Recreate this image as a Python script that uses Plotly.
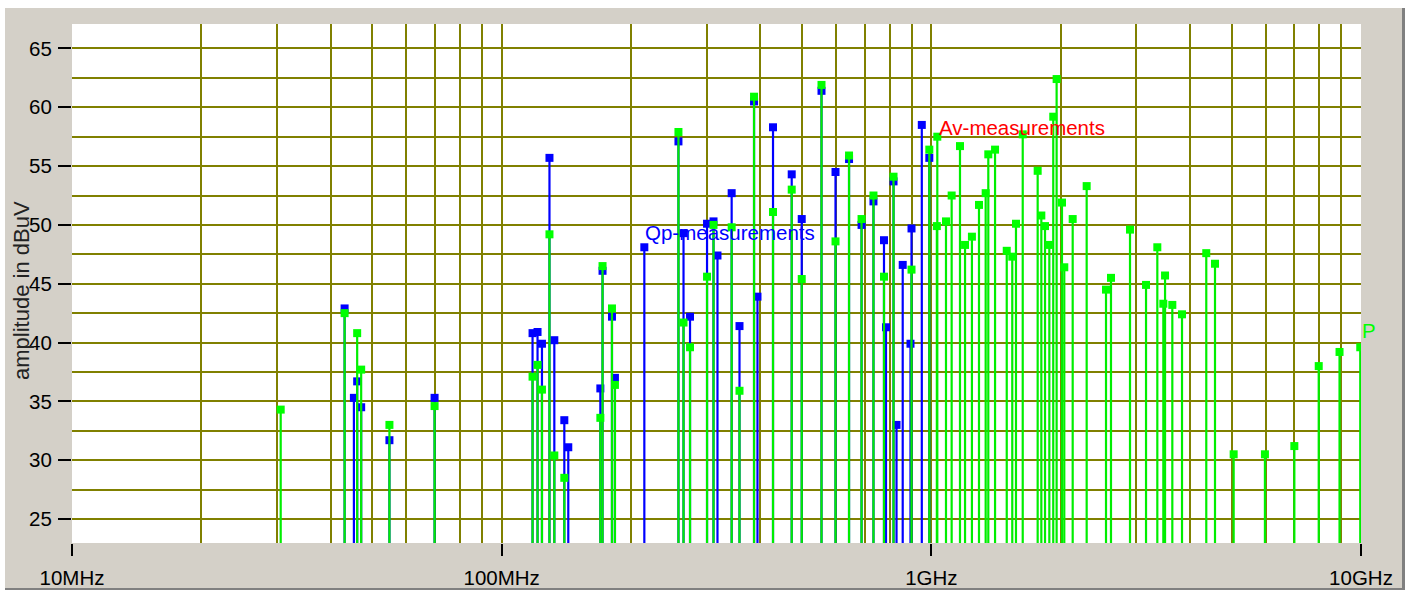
import math
import plotly.graph_objects as go

# ---------------- data ----------------
qp_freq_mhz = [43.1, 45.3, 46.1, 47.1, 54.8, 69.8, 118.0, 121.2, 124.1, 129.2,
               132.6, 139.9, 142.9, 169.7, 171.7, 180.6, 183.5, 214.8, 257.9, 265.0,
               274.4, 300.6, 311.2, 317.9, 343.0, 357.7, 386.7, 393.9, 428.1, 473.2,
               499.3, 555.1, 598.4, 643.4, 688.0, 733.4, 775.9, 784.3, 816.6, 829.8,
               857.8, 894.3, 899.2, 950.2, 989.2]
qp_dbuv = [42.9, 35.3, 36.7, 34.5, 31.7, 35.3, 40.8, 40.9, 39.9, 55.7,
           40.2, 33.4, 31.1, 36.1, 46.1, 42.2, 37.0, 48.1, 57.1, 49.3,
           42.2, 50.1, 50.3, 47.4, 52.7, 41.4, 60.5, 43.9, 58.3, 54.3,
           50.5, 61.4, 54.5, 55.6, 50.0, 52.0, 48.7, 41.3, 53.7, 33.0,
           46.6, 39.9, 49.7, 58.5, 55.7]

av_freq_mhz = [30.6, 43.1, 46.1, 47.1, 54.8, 69.8, 118.0, 121.2, 124.1, 129.2,
               132.6, 139.9, 169.7, 171.7, 180.6, 183.5, 257.9, 265.0, 274.4, 300.6,
               311.2, 343.0, 357.7, 386.7, 428.1, 473.2, 499.3, 555.1, 598.4, 643.4,
               688.0, 733.4, 775.9, 816.6, 899.2, 989.2, 1030.0, 1032.5, 1081.7, 1115.0,
               1166.0, 1198.0, 1243.0, 1291.0, 1338.0, 1357.0, 1407.0, 1498.0, 1543.0, 1574.0,
               1632.0, 1768.0, 1803.0, 1839.0, 1882.0, 1922.0, 1957.0, 2014.0, 2039.0, 2133.0,
               2299.0, 2550.0, 2619.0, 2900.0, 3160.0, 3357.0, 3467.0, 3499.0, 3638.0, 3832.0,
               4364.0, 4573.0, 5054.0, 5976.0, 6996.0, 7973.0, 8913.0, 9960.0]
av_dbuv = [34.3, 42.5, 40.8, 37.7, 33.0, 34.6, 37.1, 38.1, 36.0, 49.2,
           30.4, 28.5, 33.6, 46.5, 42.9, 36.4, 57.9, 41.7, 39.6, 45.6,
           50.0, 49.8, 35.9, 60.9, 51.1, 53.0, 45.4, 61.9, 48.6, 55.9,
           50.5, 52.5, 45.6, 54.1, 46.2, 56.4, 49.9, 57.5, 50.3, 52.5,
           56.7, 48.3, 49.0, 51.7, 52.7, 56.0, 56.4, 47.8, 47.3, 50.1,
           57.7, 54.6, 50.8, 49.9, 48.3, 59.2, 62.4, 51.9, 46.4, 50.5,
           53.3, 44.5, 45.5, 49.6, 44.9, 48.1, 43.3, 45.7, 43.2, 42.4,
           47.6, 46.7, 30.5, 30.5, 31.2, 38.0, 39.2, 39.6]

x_tick_mhz = [10, 100, 1000, 10000]
x_tick_labels = ["10MHz", "100MHz", "1GHz", "10GHz"]
y_ticks = [25, 30, 35, 40, 45, 50, 55, 60, 65]
y_title = "amplitude in dBuV"
qp_label = "Qp-measurements"
av_label = "Av-measurements"
p_label = "P"
qp_label_idx = 17     # Qp point the label is attached to
av_label_idx = 37     # Av point the label is attached to

# ---------------- styling ----------------
FONT = "Liberation Sans, Arial, sans-serif"
W, H = 1408, 591
L, R, T, B = 72, 47, 24, 48
PW, PH = W - L - R, H - T - B
GRID = "#808000"
BLUE = "#0000FF"
GREEN_LINE = "#00EE00"
GREEN_MK = "#00FF00"
STEM_BASE = 0.0


def stems(freqs, vals):
    xs, ys = [], []
    for f, v in zip(freqs, vals):
        xs += [f, f, None]
        ys += [STEM_BASE, v, None]
    return xs, ys


fig = go.Figure()
qx, qy = stems(qp_freq_mhz, qp_dbuv)
ax, ay = stems(av_freq_mhz, av_dbuv)

fig.add_trace(go.Scatter(x=qx, y=qy, mode="lines", line=dict(color=BLUE, width=2.2),
                         hoverinfo="skip", showlegend=False))
fig.add_trace(go.Scatter(x=qp_freq_mhz, y=qp_dbuv, mode="markers",
                         marker=dict(symbol="square", size=8, color=BLUE, line=dict(width=0)),
                         name="Qp", showlegend=False))
fig.add_trace(go.Scatter(x=ax, y=ay, mode="lines", line=dict(color=GREEN_LINE, width=2.2),
                         hoverinfo="skip", showlegend=False))
fig.add_trace(go.Scatter(x=av_freq_mhz, y=av_dbuv, mode="markers",
                         marker=dict(symbol="square", size=8, color=GREEN_MK, line=dict(width=0)),
                         name="Av", showlegend=False))

# minor gridline positions (2..9 in each decade, half steps in amplitude)
minor_x = [m * d for d in x_tick_mhz[:-1] for m in range(2, 10)]
minor_y = [v + 2.5 for v in y_ticks[:-1]]

fig.update_xaxes(
    type="log", range=[1, 4], automargin=False,
    tickmode="array", tickvals=x_tick_mhz, ticktext=x_tick_labels,
    ticks="outside", ticklen=12, tickwidth=2, tickcolor="black",
    showgrid=True, gridcolor=GRID, gridwidth=2.4,
    minor=dict(tickmode="array", tickvals=minor_x, showgrid=True,
               gridcolor=GRID, gridwidth=2.4, ticks=""),
    zeroline=False, showline=False,
    tickfont=dict(family=FONT, size=20.5, color="black"),
    ticklabelstandoff=4,
)
fig.update_yaxes(
    range=[22.96, 67.08], automargin=False,
    tickmode="array", tickvals=y_ticks,
    ticks="outside", ticklen=13, tickwidth=2.4, tickcolor="black",
    showgrid=True, gridcolor=GRID, gridwidth=2.4,
    minor=dict(tickmode="array", tickvals=minor_y, showgrid=True,
               gridcolor=GRID, gridwidth=2.4, ticks=""),
    zeroline=False, showline=False,
    tickfont=dict(family=FONT, size=20.5, color="black"),
    ticklabelstandoff=2,
)


def px2x(px):
    return (px - L) / PW


def py2y(py):
    return (H - B - py) / PH


shapes = [
    # white bevel on top and left
    dict(type="rect", xref="paper", yref="paper", x0=px2x(0), x1=px2x(W), y0=py2y(8), y1=py2y(0),
         fillcolor="white", line=dict(width=0), layer="below"),
    dict(type="rect", xref="paper", yref="paper", x0=px2x(0), x1=px2x(5), y0=py2y(H), y1=py2y(0),
         fillcolor="white", line=dict(width=0), layer="below"),
    # dark bevel on right and bottom
    dict(type="rect", xref="paper", yref="paper", x0=px2x(1402), x1=px2x(1405), y0=py2y(590), y1=py2y(8),
         fillcolor="#808080", line=dict(width=0), layer="below"),
    dict(type="rect", xref="paper", yref="paper", x0=px2x(1405), x1=px2x(W), y0=py2y(H), y1=py2y(0),
         fillcolor="white", line=dict(width=0), layer="below"),
    dict(type="rect", xref="paper", yref="paper", x0=px2x(5), x1=px2x(1405), y0=py2y(590), y1=py2y(588),
         fillcolor="#808080", line=dict(width=0), layer="below"),
    dict(type="rect", xref="paper", yref="paper", x0=px2x(0), x1=px2x(W), y0=py2y(H), y1=py2y(590),
         fillcolor="white", line=dict(width=0), layer="below"),
]

annotations = [
    # y-axis title
    dict(x=px2x(21), y=py2y(291), xref="paper", yref="paper", text=y_title,
         textangle=-90, showarrow=False, xanchor="center", yanchor="middle",
         font=dict(family=FONT, size=22, color="#222222")),
    dict(x=math.log10(qp_freq_mhz[qp_label_idx]), y=qp_dbuv[qp_label_idx],
         xref="x", yref="y", text=qp_label, showarrow=False,
         xanchor="left", yanchor="middle", xshift=-1, yshift=15,
         font=dict(family=FONT, size=20.5, color=BLUE)),
    dict(x=math.log10(av_freq_mhz[av_label_idx]), y=av_dbuv[av_label_idx],
         xref="x", yref="y", text=av_label, showarrow=False,
         xanchor="left", yanchor="middle", xshift=0, yshift=9,
         font=dict(family=FONT, size=20.5, color="#FF0000")),
    dict(x=math.log10(av_freq_mhz[-1]), y=av_dbuv[-1],
         xref="x", yref="y", text=p_label, showarrow=False,
         xanchor="left", yanchor="middle", xshift=0, yshift=17,
         font=dict(family=FONT, size=20.5, color=GREEN_MK)),
]

fig.update_layout(
    width=W, height=H,
    margin=dict(l=L, r=R, t=T, b=B, pad=0, autoexpand=False),
    paper_bgcolor="#D4D0C8", plot_bgcolor="white",
    shapes=shapes, annotations=annotations,
    showlegend=False,
    font=dict(family=FONT),
)

fig.write_html(
    "out.html",
    config={"displayModeBar": False},
    post_script="document.body.style.margin='0';document.body.style.overflow='hidden';",
)
